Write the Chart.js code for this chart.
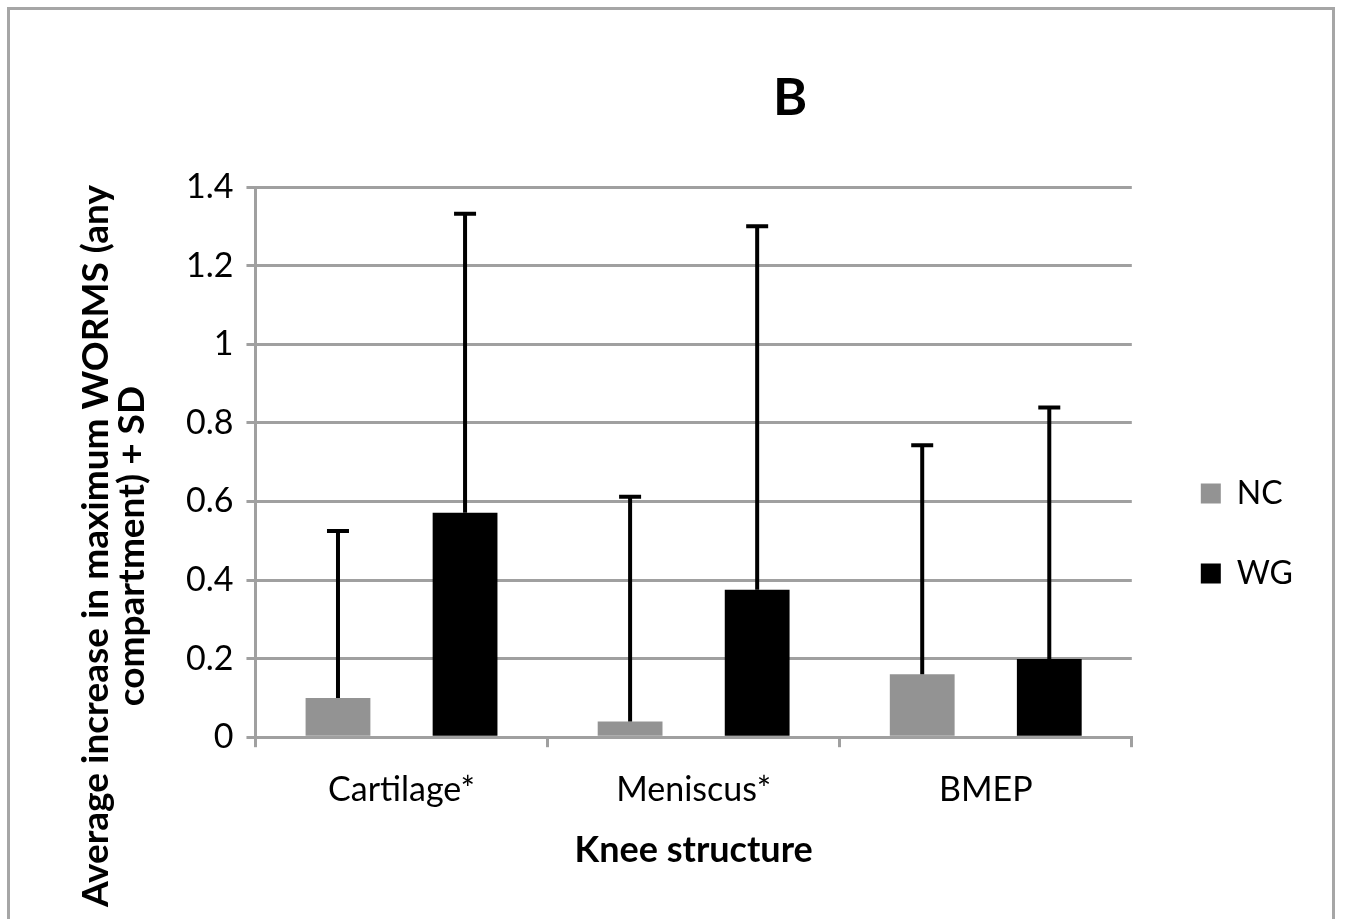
<!DOCTYPE html>
<html>
<head>
<meta charset="utf-8">
<script src="https://cdn.jsdelivr.net/npm/chart.js@4.4.1/dist/chart.umd.min.js"></script>
<style>
  html, body { margin: 0; padding: 0; background: #fff; }
  #wrap { position: relative; width: 1348px; height: 919px; overflow: hidden; }
  #frame { position: absolute; left: 7px; top: 7px; width: 1328px; height: 1000px;
           border: 3px solid #a6a6a6; box-sizing: border-box; }
  #myChart { position: absolute; left: 0; top: 0; }
</style>
</head>
<body>
<div id="wrap">
  <div id="frame"></div>
  <canvas id="myChart" width="1348" height="919"></canvas>
</div>
<script>
// data
const structures = ['Cartilage*', 'Meniscus*', 'BMEP'];
const ncMeans = [0.10, 0.04, 0.16];
const ncSD = [0.425, 0.572, 0.583];
const wgMeans = [0.571, 0.375, 0.199];
const wgSD = [0.761, 0.925, 0.640];
const yTicks = [0, 0.2, 0.4, 0.6, 0.8, 1, 1.2, 1.4];
const yTitle = ['Average increase in maximum WORMS (any', 'compartment) + SD'];

const font = 'Lato, "Open Sans", sans-serif';

// draws the +SD whiskers on top of each bar
const errorBars = {
    id: 'errorBars',
    afterDatasetsDraw(chart) {
        const ctx = chart.ctx;
        const y = chart.scales.y;
        chart.data.datasets.forEach((ds, i) => {
            const meta = chart.getDatasetMeta(i);
            meta.data.forEach((bar, j) => {
                const top = y.getPixelForValue(ds.data[j] + ds.sd[j]);
                ctx.save();
                ctx.strokeStyle = '#000';
                ctx.lineWidth = 4;
                ctx.beginPath();
                ctx.moveTo(bar.x, bar.y);
                ctx.lineTo(bar.x, top);
                ctx.moveTo(bar.x - 11, top);
                ctx.lineTo(bar.x + 11, top);
                ctx.stroke();
                ctx.restore();
            });
        });
    }
};

// panel letter + y title; in the original the y title sits lower than the plot centre
const extraText = {
    id: 'extraText',
    afterDraw(chart) {
        const ctx = chart.ctx;
        const a = chart.chartArea;
        ctx.save();
        ctx.fillStyle = '#000';
        ctx.textAlign = 'center';
        ctx.textBaseline = 'middle';
        ctx.font = 'bold 52px ' + font;
        ctx.fillText('B', a.left + (a.right - a.left) * 0.61, 98);

        ctx.font = 'bold 37px ' + font;
        ctx.translate(a.left - 141, (a.top + a.bottom) / 2 + 84);
        ctx.rotate(-Math.PI / 2);
        yTitle.forEach((line, k) => ctx.fillText(line, 0, -18 + k * 36));
        ctx.restore();
    }
};

// the legend in the original sits a little lower and further right than chart.js puts it
const legendNudge = {
    id: 'legendNudge',
    afterLayout(chart) {
        const l = chart.legend;
        l.left += 21;
        l.right += 21;
        l.top += 4;
        l.bottom += 4;
    }
};

const chartData = {
    labels: structures,
    datasets: [{
        label: 'NC',
        backgroundColor: '#939393',
        data: ncMeans,
        sd: ncSD
    }, {
        label: 'WG',
        backgroundColor: '#000000',
        data: wgMeans,
        sd: wgSD
    }]
};

const config = {
    type: 'bar',
    data: chartData,
    plugins: [errorBars, extraText, legendNudge],
    options: {
        responsive: false,
        animation: false,
        categoryPercentage: 0.87,
        barPercentage: 0.51,
        layout: {
            padding: { top: 187, left: 173, right: 66, bottom: 47 }
        },
        plugins: {
            tooltip: { enabled: false },
            title: { display: false },
            legend: {
                position: 'right',
                labels: {
                    font: { family: font, size: 32 },
                    color: '#000',
                    boxWidth: 20,
                    boxHeight: 20,
                    padding: 48
                }
            }
        },
        scales: {
            x: {
                grid: {
                    display: true,
                    drawOnChartArea: false,
                    color: '#a0a0a0',
                    lineWidth: 3,
                    tickLength: 10,
                    offset: true
                },
                border: { color: '#a0a0a0', width: 3 },
                ticks: {
                    font: { family: font, size: 34 },
                    color: '#000',
                    padding: 22
                },
                title: {
                    display: true,
                    text: 'Knee structure',
                    font: { family: font, size: 36, weight: 'bold', lineHeight: 1.0 },
                    color: '#000',
                    padding: { top: 0 }
                }
            },
            y: {
                min: 0,
                max: 1.4,
                afterBuildTicks: (axis) => {
                    axis.ticks = yTicks.map(v => ({ value: v }));
                },
                grid: {
                    color: '#a0a0a0',
                    lineWidth: 3,
                    tickLength: 9
                },
                border: { color: '#a0a0a0', width: 3 },
                ticks: {
                    font: { family: font, size: 34 },
                    color: '#000',
                    padding: 13,
                    callback: (v) => String(+Number(v).toFixed(1))
                }
            }
        }
    }
};

const myChart = new Chart(
    document.getElementById('myChart'),
    config
);
</script>
</body>
</html>
